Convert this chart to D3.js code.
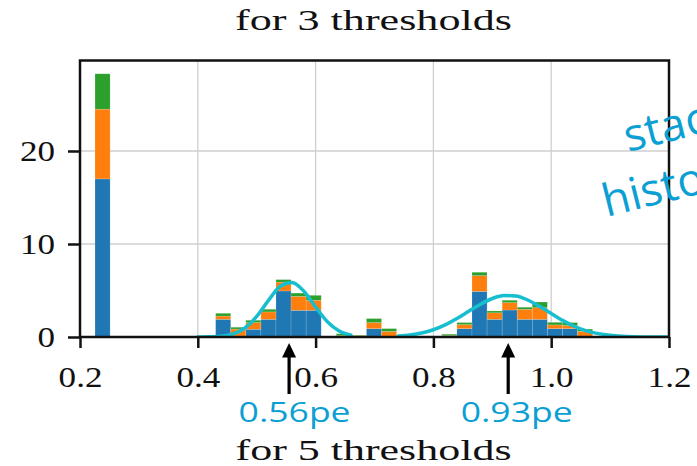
<!DOCTYPE html>
<html><head><meta charset="utf-8">
<script src="https://cdn.jsdelivr.net/npm/d3@7"></script>
<style>body{margin:0;background:#fff;overflow:hidden}svg{display:block}</style>
</head><body>
<svg id="c" width="697" height="466"></svg>
<script>
// ---- data ----
const binWidth = 0.0256;
const binLeft   = [0.2255,0.4303,0.4559,0.4815,0.5071,0.5327,0.5583,0.5839,0.6351,0.6607,0.6863,0.7119,0.8143,0.8399,0.8655,0.8911,0.9167,0.9423,0.9679,0.9935,1.0191,1.0447];
const blueVals  = [17.0,1.9,0.1,0.83,1.9,4.95,2.87,2.87,0,0,0.9,0,0,0.9,4.9,1.9,2.9,1.9,1.9,0.9,0.9,0];
const orangeVals= [7.5,0.35,0.75,0.72,0.8,0.95,1.5,1.08,0.15,0.15,0.65,0.6,0.15,0.43,1.7,0.7,0.8,1.08,1.26,0.4,0.35,0.6];
const greenVals = [3.8,0.3,0.2,0.25,0.28,0.27,0.35,0.53,0.2,0.05,0.43,0.3,0.15,0.22,0.36,0.2,0.25,0.22,0.6,0.28,0.3,0.25];
const fit1X = [0.40,0.42,0.44,0.46,0.48,0.50,0.52,0.54,0.56,0.58,0.60,0.62,0.64,0.66];
const fit1Y = [0.00,0.02,0.09,0.33,0.97,2.21,3.94,5.45,5.87,4.93,3.22,1.64,0.65,0.20];
const fit2X = [0.74,0.76,0.78,0.80,0.82,0.84,0.86,0.88,0.90,0.92,0.94,0.96,0.98,1.00,1.02,1.04,1.06,1.08,1.10,1.12,1.14,1.16,1.18,1.20];
const fit2Y = [0.10,0.22,0.43,0.78,1.30,1.98,2.76,3.53,4.14,4.46,4.40,3.98,3.31,2.52,1.76,1.13,0.66,0.36,0.18,0.08,0.03,0.01,0.00,0.00];
const xTicks = [0.2,0.4,0.6,0.8,1.0,1.2];
const yTicks = [0,10,20];
const peakX = [0.555,0.927];
const peakLabels = ["0.56pe","0.93pe"];
const topTitle = "for 3 thresholds";
const bottomTitle = "for 5 thresholds";
const sideText = ["stacked","histogram"];
const seriesColors = ["#1f77b4","#ff7f0e","#2ca02c"];

// ---- layout ----
const L=80,R=669,T=60.5,B=337;
const svg=d3.select("#c");
const x=d3.scaleLinear().domain([0.2,1.2]).range([L,R]);
const y=d3.scaleLinear().domain([0,29.73]).range([B,T]);
const serif="'Liberation Serif','DejaVu Serif',serif";
const sans="'Open Sans','Noto Sans',sans-serif";
const cyanText="#0c9fd3";

function stretch(sel,target){ // target width or factor
  sel.each(function(){
    const w=this.getComputedTextLength();
    const t = target>5 ? target : w*target;
    d3.select(this).attr("textLength",t).attr("lengthAdjust","spacingAndGlyphs");
  });
}

svg.append("defs").append("clipPath").attr("id","clip")
  .append("rect").attr("x",L).attr("y",T).attr("width",R-L).attr("height",B-T);

// grid
const grid=svg.append("g").attr("stroke","#cfcfcf").attr("stroke-width",1.3);
xTicks.forEach(t=>grid.append("line").attr("x1",x(t)).attr("x2",x(t)).attr("y1",T).attr("y2",B));
yTicks.forEach(t=>grid.append("line").attr("x1",L).attr("x2",R).attr("y1",y(t)).attr("y2",y(t)));

// stacked bars
const rows=binLeft.map((b,i)=>({b,blue:blueVals[i],orange:orangeVals[i],green:greenVals[i]}));
const stack=d3.stack().keys(["blue","orange","green"])(rows);
const plot=svg.append("g").attr("clip-path","url(#clip)");
stack.forEach((layer,li)=>{
  plot.append("g").attr("fill",seriesColors[li])
   .selectAll("rect").data(layer).join("rect")
   .attr("x",d=>x(d.data.b)).attr("width",d=>x(d.data.b+binWidth)-x(d.data.b))
   .attr("y",d=>y(d[1])).attr("height",d=>Math.max(0,y(d[0])-y(d[1])))
   .attr("stroke","#ffffff").attr("stroke-opacity",0.25).attr("stroke-width",0.6);
});

// fit curves
const line=d3.line().x(d=>x(d[0])).y(d=>y(d[1])).curve(d3.curveMonotoneX);
[[fit1X,fit1Y],[fit2X,fit2Y]].forEach(([xs,ys])=>{
  plot.append("path").datum(xs.map((v,i)=>[v,ys[i]])).attr("d",line)
    .attr("fill","none").attr("stroke","#17becf").attr("stroke-width",3.5)
    .attr("stroke-linecap","round");
});

// spines
svg.append("rect").attr("x",L).attr("y",T).attr("width",R-L).attr("height",B-T)
  .attr("fill","none").attr("stroke","#111").attr("stroke-width",2.5);

// x axis
const xa=svg.append("g").attr("transform",`translate(0,${B})`)
  .call(d3.axisBottom(x).tickValues(xTicks).tickFormat(d3.format(".1f")).tickSize(11));
xa.select(".domain").remove();
xa.selectAll(".tick line").attr("stroke","#111").attr("stroke-width",2.5);
xa.selectAll(".tick text").attr("y",50).attr("dy",null)
  .attr("font-family",serif).attr("font-size",29).attr("fill","#111").call(stretch,1.21);

// y axis
const ya=svg.append("g").attr("transform",`translate(${L},0)`)
  .call(d3.axisLeft(y).tickValues(yTicks).tickSize(12));
ya.select(".domain").remove();
ya.selectAll(".tick line").attr("stroke","#111").attr("stroke-width",2.5);
ya.selectAll(".tick text").attr("x",-25).attr("dy","0.33em")
  .attr("font-family",serif).attr("font-size",29).attr("fill","#111").call(stretch,1.21);

// titles
svg.append("text").attr("x",373.5).attr("y",30).attr("text-anchor","middle")
  .attr("font-family",serif).attr("font-size",29).attr("fill","#111").text(topTitle).call(stretch,277);
svg.append("text").attr("x",373.5).attr("y",460).attr("text-anchor","middle")
  .attr("font-family",serif).attr("font-size",29).attr("fill","#111").text(bottomTitle).call(stretch,276);

// arrows + labels
const ann=svg.append("g");
peakX.forEach((p,i)=>{
  const px=x(p);
  ann.append("path").attr("d",`M${px},343 L${px-7},357.5 L${px+7},357.5 Z`).attr("fill","#000");
  ann.append("line").attr("x1",px).attr("x2",px).attr("y1",356).attr("y2",394)
    .attr("stroke","#000").attr("stroke-width",3.2);
  ann.append("text").attr("x",px+5.5+i*3).attr("y",421.5).attr("text-anchor","middle")
    .attr("font-family",sans).attr("font-size",28).attr("fill",cyanText)
    .text(peakLabels[i]).call(stretch,112);
});

// side rotated text (clipped by the page edge, as in the reference)
const side=svg.append("g").attr("font-family",sans).attr("font-size",45).attr("fill",cyanText);
side.append("text").attr("transform","translate(628,152) rotate(-14)").text(sideText[0]);
side.append("text").attr("transform","translate(606.5,217) rotate(-14)").text(sideText[1]);
</script>
</body></html>
